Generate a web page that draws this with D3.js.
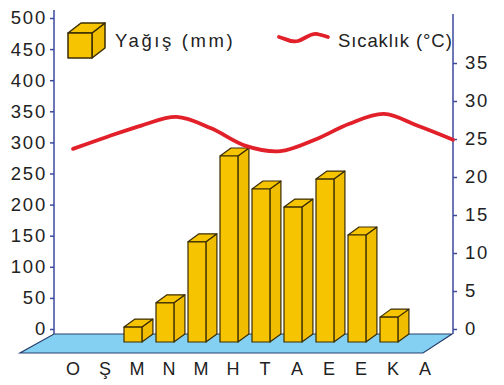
<!DOCTYPE html>
<html>
<head>
<meta charset="utf-8">
<script src="https://cdn.jsdelivr.net/npm/d3@7"></script>
<style>
  body { margin: 0; background: #fff; }
  text { font-family: "Liberation Sans", Arial, sans-serif; fill: #222; }
</style>
</head>
<body>
<div id="chart"></div>
<script>
var months = ["O", "Ş", "M", "N", "M", "H", "T", "A", "E", "E", "K", "A"];
var rain = [0, 0, 24, 63, 161, 299, 246, 217, 262, 172, 40, 0];
var temp = [23.7, 25.3, 26.8, 27.9, 26.4, 24.1, 23.4, 24.9, 27.0, 28.3, 26.7, 24.9];
var rainTicks = [0, 50, 100, 150, 200, 250, 300, 350, 400, 450, 500];
var tempTicks = [0, 5, 10, 15, 20, 25, 30, 35];

var width = 504, height = 385;
var axisBlue = "#3c4a9c", barFill = "#f6c400", barLine = "#3a2c05";

var svg = d3.select("#chart").append("svg")
    .attr("width", width)
    .attr("height", height);

var x = d3.scaleBand().domain(d3.range(months.length)).range([56, 440]),
    yL = d3.scaleLinear().domain([0, 500]).range([329, 18]),
    yR = d3.scaleLinear().domain([0, 35]).range([329, 63]),
    xT = d3.scalePoint().domain(d3.range(temp.length)).range([73, 453]);

var depth = {dx: 11, dy: -8}, drop = 13;

// floor
svg.append("polygon")
    .attr("points", [[54, 334], [452, 334], [423, 353], [20, 353]].join(" "))
    .attr("fill", "#84d0f2")
    .attr("stroke", "#27406e")
    .attr("stroke-width", 1.2);

// axes
var gl = svg.append("g").attr("transform", "translate(54,0)")
    .call(d3.axisLeft(yL).tickValues(rainTicks).tickSize(4).tickPadding(3));
var gr = svg.append("g").attr("transform", "translate(453,0)")
    .call(d3.axisRight(yR).tickValues(tempTicks).tickSize(4).tickPadding(8));
[gl, gr].forEach(function(g) {
  g.select(".domain").remove();
  g.selectAll(".tick line").attr("stroke", axisBlue).attr("stroke-width", 1.5);
  g.selectAll(".tick text").attr("font-size", 18.5).attr("letter-spacing", 1.8)
    .attr("fill", "#1e1e1e").attr("font-family", "Liberation Sans, Arial, sans-serif");
});
svg.append("line").attr("x1", 54).attr("x2", 54).attr("y1", 10).attr("y2", 334)
    .attr("stroke", axisBlue).attr("stroke-width", 1.5);
svg.append("line").attr("x1", 453).attr("x2", 453).attr("y1", 14).attr("y2", 334)
    .attr("stroke", axisBlue).attr("stroke-width", 1.5);

// month labels
svg.selectAll(".month")
    .data(months)
    .enter().append("text")
    .attr("class", "month")
    .attr("x", function(d, i) { return x(i) + x.bandwidth() / 2 + 1; })
    .attr("y", 375)
    .attr("text-anchor", "middle")
    .attr("font-size", 18)
    .text(function(d) { return d; });

// 3d bars
function cube(g, x0, y0, w, h) {
  var x1 = x0 + w, y1 = y0 + h, dx = depth.dx, dy = depth.dy;
  g.append("path")
    .attr("d", "M" + x1 + "," + y0 + "L" + (x1 + dx) + "," + (y0 + dy) +
               "L" + (x1 + dx) + "," + (y1 + dy) + "L" + x1 + "," + y1 + "Z")
    .attr("fill", "#f0bd00");
  g.append("path")
    .attr("d", "M" + x0 + "," + y0 + "L" + (x0 + dx) + "," + (y0 + dy) +
               "L" + (x1 + dx) + "," + (y0 + dy) + "L" + x1 + "," + y0 + "Z")
    .attr("fill", barFill);
  g.append("rect")
    .attr("x", x0).attr("y", y0).attr("width", w).attr("height", h)
    .attr("fill", barFill);
  g.selectAll("path, rect")
    .attr("stroke", barLine).attr("stroke-width", 1.2).attr("stroke-linejoin", "round");
}

var bw = x.bandwidth() * 0.56;
rain.forEach(function(v, i) {
  if (!v) return;
  var g = svg.append("g").attr("class", "bar");
  var top = yL(v) + drop, bottom = yL(0) + drop;
  cube(g, x(i) + x.bandwidth() * 0.125, top, bw, bottom - top);
});

// temperature line
var line = d3.line()
    .x(function(d, i) { return xT(i); })
    .y(function(d) { return yR(d); })
    .curve(d3.curveCatmullRom.alpha(0.5));

svg.append("path")
    .datum(temp)
    .attr("d", line)
    .attr("fill", "none")
    .attr("stroke", "#e2202a")
    .attr("stroke-width", 3.8)
    .attr("stroke-linecap", "round");

// legend
var lg = svg.append("g");
cube(lg, 68, 33, 24, 25);
lg.selectAll("path, rect").attr("stroke-width", 1.5);
lg.select("path").attr("d", "M92,33L105,23L105,48L92,58Z");
lg.select("path:nth-of-type(2)").attr("d", "M68,33L81,23L105,23L92,33Z");
lg.append("text").attr("x", 115).attr("y", 47).attr("font-size", 18.5)
    .attr("letter-spacing", 2.6).text("Yağış (mm)");

lg.append("path")
    .attr("d", "M279,37 C287,39 291,43 298,41 C305,39 310,33 317,34 C322,35 325,36 328,37")
    .attr("fill", "none").attr("stroke", "#e2202a").attr("stroke-width", 3.8)
    .attr("stroke-linecap", "round");
lg.append("text").attr("x", 338).attr("y", 47).attr("font-size", 18.5)
    .attr("letter-spacing", 0.9).text("Sıcaklık (°C)");
</script>
</body>
</html>
